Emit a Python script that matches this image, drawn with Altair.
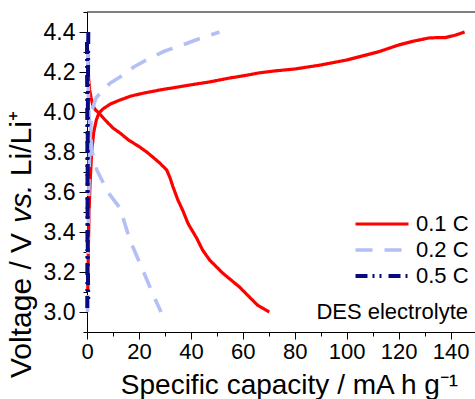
import altair as alt
import pandas as pd

# Galvanostatic charge/discharge profiles at three C-rates
rates = ["0.1 C", "0.2 C", "0.5 C"]

cap_01_chg = [0.3, 0.5, 0.8, 1.2, 1.8, 2.6, 3.6, 4.6, 6.1, 9, 12.7, 17, 22, 28, 35, 42, 47, 55, 62,
              66, 72, 80, 90, 100, 106, 112, 120, 126, 131.6, 135, 138, 142, 145.4]
v_01_chg = [3.1, 3.3, 3.5, 3.65, 3.8, 3.9, 3.96, 3.995, 4.015, 4.04, 4.06, 4.08, 4.095, 4.11, 4.125,
            4.14, 4.15, 4.17, 4.185, 4.195, 4.205, 4.215, 4.235, 4.26, 4.28, 4.30, 4.335, 4.355, 4.37,
            4.372, 4.372, 4.385, 4.4]
cap_01_dis = [0.3, 0.4, 0.6, 1.0, 1.6, 2.3, 3.3, 4.6, 7, 10, 12.7, 16, 20.3, 23, 25.3, 28, 30.7, 32,
              33, 35, 36.8, 39, 42.2, 44.5, 47.2, 52.2, 58.7, 65.6, 70.2]
v_01_dis = [4.31, 4.25, 4.17, 4.11, 4.07, 4.03, 4.01, 3.995, 3.96, 3.92, 3.895, 3.86, 3.825, 3.80,
            3.775, 3.745, 3.71, 3.67, 3.63, 3.56, 3.51, 3.44, 3.37, 3.31, 3.26, 3.195, 3.125, 3.035, 3.0]

cap_02_chg = [0.2, 0.4, 0.7, 1.0, 1.4, 1.9, 3.5, 6.1, 9, 12.7, 18, 24.2, 30, 36.8, 44, 51]
v_02_chg = [3.0, 3.3, 3.6, 3.8, 3.92, 4.01, 4.07, 4.11, 4.145, 4.175, 4.225, 4.27, 4.305, 4.335, 4.37, 4.4]
cap_02_dis = [0.3, 0.5, 0.8, 1.2, 2.0, 3.8, 8, 12.7, 16.5, 21.5, 25, 28.5]
v_02_dis = [4.3, 4.1, 3.98, 3.9, 3.8, 3.71, 3.6, 3.52, 3.36, 3.21, 3.1, 3.0]

cap_05_chg = [0.1, 0.2, 0.3, 0.4, 0.5]
v_05_chg = [3.02, 3.5, 3.9, 4.2, 4.4]
cap_05_dis = [0.0, 0.1, 0.2, 0.35, 0.5]
v_05_dis = [4.35, 4.0, 3.6, 3.2, 3.05]

x_ticks = list(range(0, 151, 10))
y_ticks = [round(2.9 + 0.1 * i, 1) for i in range(17)]
note_text = ["DES electrolyte"]

# y-axis title pieces: plain, italic, plain
y_title_parts = ["Voltage / V", "vs.", "Li/Li\u207a"]
y_title_styles = ["normal", "italic", "normal"]

rows = []
for rate, segs in [
    ("0.1 C", [(cap_01_chg, v_01_chg), (cap_01_dis, v_01_dis)]),
    ("0.2 C", [(cap_02_chg, v_02_chg), (cap_02_dis, v_02_dis)]),
    ("0.5 C", [(cap_05_chg, v_05_chg), (cap_05_dis, v_05_dis)]),
]:
    for k, (caps, volts) in enumerate(segs):
        for i, (c, v) in enumerate(zip(caps, volts)):
            rows.append({"rate": rate, "seg": f"{rate}-{k}", "idx": i, "cap": c, "volt": v})
df = pd.DataFrame(rows)
note_df = pd.DataFrame({"label": note_text})

FONT = "Liberation Sans"
TITLE_SIZE = 30

x_axis = alt.Axis(
    values=x_ticks,
    labelExpr="datum.value % 20 == 0 ? datum.label : ''",
    tickSize={"condition": {"test": "datum.value % 20 == 0", "value": 7}, "value": 4},
    tickColor="black", domainColor="black", tickWidth=1,
    labelFontSize=22, labelFont=FONT, labelColor="black", labelPadding=2, labelFlush=False,
    title="Specific capacity / mA h g\u207b\u00b9",
    titleFontSize=28, titleFont=FONT, titleFontWeight="normal", titleColor="black",
    titleX=202, titleY=61, titleBaseline="alphabetic", titleAnchor="middle", titleAlign="center",
    grid=False,
)
y_axis = alt.Axis(
    values=y_ticks, format=".1f",
    labelExpr="round(datum.value * 10) % 2 == 0 ? datum.label : ''",
    tickSize={"condition": {"test": "round(datum.value * 10) % 2 == 0", "value": 8}, "value": 4},
    tickColor="black", domainColor="black", tickWidth=1,
    labelFontSize=23, labelFont=FONT, labelColor="black", labelPadding=4, labelFlush=False,
    title=None,
    grid=False,
)

lines = alt.Chart(df).mark_line(strokeCap="butt", strokeJoin="round").encode(
    x=alt.X("cap:Q", scale=alt.Scale(domain=[0, 149.4], nice=False, zero=False), axis=x_axis),
    y=alt.Y("volt:Q", scale=alt.Scale(domain=[2.9, 4.5], nice=False, zero=False), axis=y_axis),
    color=alt.Color("rate:N", scale=alt.Scale(domain=rates, range=["#ff0000", "#b4bff5", "#0a0a80"]),
                    legend=alt.Legend(orient="none", legendX=283, legendY=200, title=None,
                                      symbolType="M-2.65,0H2.65", symbolSize=400, labelFontSize=22,
                                      labelFont=FONT, labelColor="black", rowPadding=3,
                                      labelOffset=22, padding=0)),
    strokeDash=alt.StrokeDash("rate:N", scale=alt.Scale(domain=rates,
                              range=[[1, 0], [17, 12], [12, 5, 2, 5, 2, 7]])),
    strokeWidth=alt.StrokeWidth("rate:N", scale=alt.Scale(domain=rates, range=[3.2, 4, 2.5])),
    detail="seg:N",
    order="idx:Q",
)

top_frame = alt.Chart(note_df).mark_rule(color="black", strokeWidth=1).encode(
    x=alt.value(0), x2=alt.value(388), y=alt.value(0)
)

note = alt.Chart(note_df).mark_text(
    font=FONT, fontSize=22, align="right", baseline="alphabetic", color="black"
).encode(text="label:N", x=alt.value(381), y=alt.value(307))

# Rotated y-axis title, built from pieces so "vs." can be italic.
# Advances follow Liberation Sans metrics (units per 1000 em), each
# including the word space that follows the piece.
piece_units = [5170, 1556, 2390]
title_layers = []
y_start = 366.0
for part, style, units in zip(y_title_parts, y_title_styles, piece_units):
    part_df = pd.DataFrame({"t": [part]})
    title_layers.append(
        alt.Chart(part_df).mark_text(
            font=FONT, fontSize=TITLE_SIZE, fontStyle=style, angle=270,
            align="left", baseline="alphabetic", color="black",
        ).encode(text="t:N", x=alt.value(-56), y=alt.value(y_start))
    )
    y_start -= units / 1000 * TITLE_SIZE

chart = alt.layer(lines, top_frame, note, *title_layers).properties(
    width=388, height=320,
    autosize=alt.AutoSizeParams(type="none"),
    padding={"left": 87, "top": 12, "right": 0, "bottom": 67},
    background="white",
).configure_view(stroke=None)

chart.save("out.html", embed_options={"renderer": "svg", "actions": False})
